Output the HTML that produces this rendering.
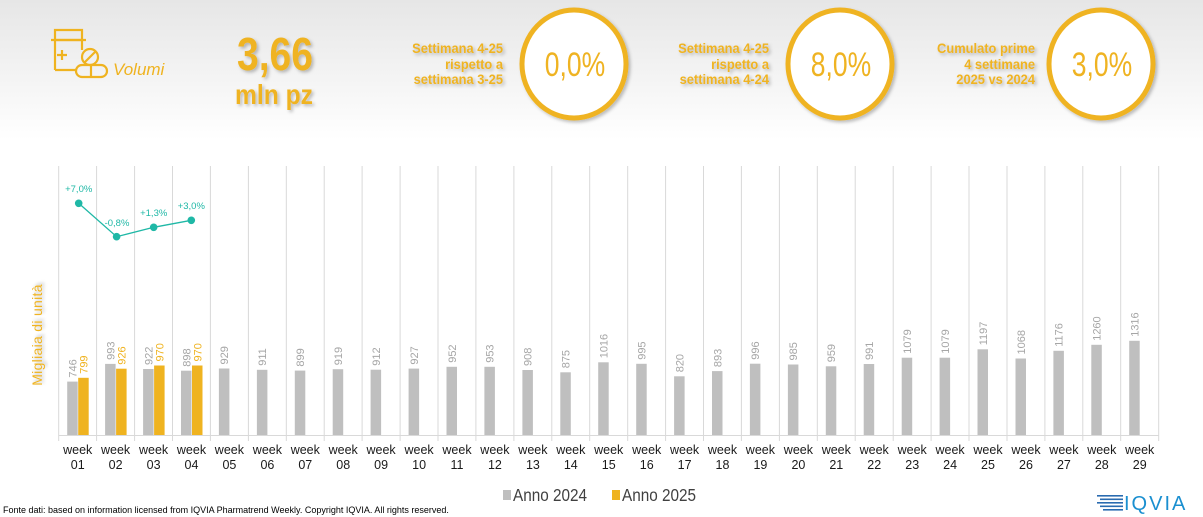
<!DOCTYPE html>
<html><head><meta charset="utf-8"><style>
html,body{margin:0;padding:0;width:1203px;height:517px;overflow:hidden;background:#fff}
svg{display:block;font-family:"Liberation Sans",sans-serif}
</style></head><body>
<svg width="1203" height="517" viewBox="0 0 1203 517">
<defs><linearGradient id="bg" x1="0" y1="0" x2="0" y2="1"><stop offset="0" stop-color="#e6e6e6"/><stop offset="1" stop-color="#ffffff"/></linearGradient>
<filter id="sh" x="-20%" y="-20%" width="140%" height="140%"><feDropShadow dx="2" dy="2" stdDeviation="1.5" flood-color="#000" flood-opacity="0.25"/></filter></defs>
<rect x="0" y="0" width="1203" height="140" fill="url(#bg)"/>
<!-- icon -->
<g fill="none" stroke="#EFB320" stroke-width="2.2">
<path d="M55 70 V40 H82 V50"/><path d="M55 40 V30 H82 V40"/><path d="M51 40 H86"/>
<path d="M62 50 V60 M57 55 H67"/><path d="M55 70 H76"/>
<circle cx="90" cy="57" r="8"/><path d="M84 63 L96 51"/>
<rect x="76" y="65" width="31" height="12" rx="6"/><path d="M91 65 V77"/>
</g>
<text x="113" y="75" font-size="17" font-style="italic" fill="#EFB320">Volumi</text>
<g filter="url(#sh)" fill="#EFB320" font-weight="bold" text-anchor="middle">
<text transform="translate(275,70) scale(0.85,1)" font-size="46">3,66</text>
<text transform="translate(274,104) scale(0.88,1)" font-size="28">mln pz</text>
<g font-size="14" text-anchor="end">
<g transform="translate(503,0) scale(0.92,1)"><text y="53">Settimana 4-25</text><text y="69">rispetto a</text><text y="84">settimana 3-25</text></g>
<g transform="translate(769,0) scale(0.92,1)"><text y="53">Settimana 4-25</text><text y="69">rispetto a</text><text y="84">settimana 4-24</text></g>
<g transform="translate(1035,0) scale(0.92,1)"><text y="53">Cumulato prime</text><text y="69">4 settimane</text><text y="84">2025 vs 2024</text></g>
</g>
<g fill="#fff" stroke="#EFB320" stroke-width="5"><ellipse cx="574" cy="64" rx="52" ry="54"/><ellipse cx="840" cy="64" rx="52" ry="54"/><ellipse cx="1101" cy="64" rx="52" ry="54"/></g>
<g font-size="34" font-weight="normal"><text transform="translate(575,76) scale(0.78,1)">0,0%</text><text transform="translate(841,76) scale(0.78,1)">8,0%</text><text transform="translate(1102,76) scale(0.78,1)">3,0%</text></g>
</g>
<!-- grid -->
<g stroke="#d9d9d9" stroke-width="1">
<path d="M58.7 166V441M96.6 166V441M134.6 166V441M172.5 166V441M210.4 166V441M248.4 166V441M286.3 166V441M324.2 166V441M362.1 166V441M400.1 166V441M438 166V441M475.9 166V441M513.9 166V441M551.8 166V441M589.7 166V441M627.7 166V441M665.6 166V441M703.5 166V441M741.4 166V441M779.4 166V441M817.3 166V441M855.2 166V441M893.2 166V441M931.1 166V441M969 166V441M1007 166V441M1044.9 166V441M1082.8 166V441M1120.7 166V441M1158.7 166V441"/>
<path d="M58.7 435.5H1158.7"/>
</g>
<text transform="translate(42,335) rotate(-90)" text-anchor="middle" font-size="14" letter-spacing="0.3" fill="#EFB320" filter="url(#sh)">Migliaia di unità</text>
<!-- bars -->
<g font-size="11">
<g transform="translate(58.7,0)"><rect x="8.5" y="381.6" width="10.5" height="53.4" fill="#bfbfbf"/><rect x="19.5" y="377.8" width="10.5" height="57.2" fill="#EFB320"/><text transform="translate(17.8,377.6) rotate(-90)" fill="#a6a6a6">746</text><text transform="translate(28.8,373.8) rotate(-90)" fill="#EFB320">799</text></g>
<g transform="translate(96.6,0)"><rect x="8.5" y="363.9" width="10.5" height="71.1" fill="#bfbfbf"/><rect x="19.5" y="368.7" width="10.5" height="66.3" fill="#EFB320"/><text transform="translate(17.8,359.9) rotate(-90)" fill="#a6a6a6">993</text><text transform="translate(28.8,364.7) rotate(-90)" fill="#EFB320">926</text></g>
<g transform="translate(134.6,0)"><rect x="8.5" y="369" width="10.5" height="66" fill="#bfbfbf"/><rect x="19.5" y="365.5" width="10.5" height="69.5" fill="#EFB320"/><text transform="translate(17.8,365) rotate(-90)" fill="#a6a6a6">922</text><text transform="translate(28.8,361.5) rotate(-90)" fill="#EFB320">970</text></g>
<g transform="translate(172.5,0)"><rect x="8.5" y="370.7" width="10.5" height="64.3" fill="#bfbfbf"/><rect x="19.5" y="365.5" width="10.5" height="69.5" fill="#EFB320"/><text transform="translate(17.8,366.7) rotate(-90)" fill="#a6a6a6">898</text><text transform="translate(28.8,361.5) rotate(-90)" fill="#EFB320">970</text></g>
<g fill="#bfbfbf">
<rect x="218.9" y="368.5" width="10.5" height="66.5"/><rect x="256.9" y="369.8" width="10.5" height="65.2"/><rect x="294.8" y="370.6" width="10.5" height="64.4"/><rect x="332.7" y="369.2" width="10.5" height="65.8"/><rect x="370.6" y="369.7" width="10.5" height="65.3"/><rect x="408.6" y="368.6" width="10.5" height="66.4"/><rect x="446.5" y="366.8" width="10.5" height="68.2"/><rect x="484.4" y="366.8" width="10.5" height="68.2"/><rect x="522.4" y="370" width="10.5" height="65"/><rect x="560.3" y="372.3" width="10.5" height="62.7"/><rect x="598.2" y="362.3" width="10.5" height="72.7"/><rect x="636.2" y="363.8" width="10.5" height="71.2"/><rect x="674.1" y="376.3" width="10.5" height="58.7"/><rect x="712" y="371.1" width="10.5" height="63.9"/><rect x="749.9" y="363.7" width="10.5" height="71.3"/><rect x="787.9" y="364.5" width="10.5" height="70.5"/><rect x="825.8" y="366.3" width="10.5" height="68.7"/><rect x="863.7" y="364" width="10.5" height="71"/><rect x="901.7" y="357.7" width="10.5" height="77.3"/><rect x="939.6" y="357.7" width="10.5" height="77.3"/><rect x="977.5" y="349.3" width="10.5" height="85.7"/><rect x="1015.5" y="358.5" width="10.5" height="76.5"/><rect x="1053.4" y="350.8" width="10.5" height="84.2"/><rect x="1091.3" y="344.8" width="10.5" height="90.2"/><rect x="1129.2" y="340.8" width="10.5" height="94.2"/>
</g>
<g fill="#a6a6a6">
<text transform="translate(228.2,364.5) rotate(-90)">929</text><text transform="translate(266.2,365.8) rotate(-90)">911</text><text transform="translate(304.1,366.6) rotate(-90)">899</text><text transform="translate(342,365.2) rotate(-90)">919</text><text transform="translate(379.9,365.7) rotate(-90)">912</text><text transform="translate(417.9,364.6) rotate(-90)">927</text><text transform="translate(455.8,362.8) rotate(-90)">952</text><text transform="translate(493.7,362.8) rotate(-90)">953</text><text transform="translate(531.7,366) rotate(-90)">908</text><text transform="translate(569.6,368.3) rotate(-90)">875</text><text transform="translate(607.5,358.3) rotate(-90)">1016</text><text transform="translate(645.5,359.8) rotate(-90)">995</text><text transform="translate(683.4,372.3) rotate(-90)">820</text><text transform="translate(721.3,367.1) rotate(-90)">893</text><text transform="translate(759.2,359.7) rotate(-90)">996</text><text transform="translate(797.2,360.5) rotate(-90)">985</text><text transform="translate(835.1,362.3) rotate(-90)">959</text><text transform="translate(873,360) rotate(-90)">991</text><text transform="translate(911,353.7) rotate(-90)">1079</text><text transform="translate(948.9,353.7) rotate(-90)">1079</text><text transform="translate(986.8,345.3) rotate(-90)">1197</text><text transform="translate(1024.8,354.5) rotate(-90)">1068</text><text transform="translate(1062.7,346.8) rotate(-90)">1176</text><text transform="translate(1100.6,340.8) rotate(-90)">1260</text><text transform="translate(1138.5,336.8) rotate(-90)">1316</text>
</g>
</g>
<!-- x labels -->
<g font-size="12.5" fill="#1a1a1a" text-anchor="middle">
<g transform="translate(77.7,0)"><text y="454">week</text><text y="469">01</text></g>
<g transform="translate(115.6,0)"><text y="454">week</text><text y="469">02</text></g>
<g transform="translate(153.6,0)"><text y="454">week</text><text y="469">03</text></g>
<g transform="translate(191.5,0)"><text y="454">week</text><text y="469">04</text></g>
<g transform="translate(229.4,0)"><text y="454">week</text><text y="469">05</text></g>
<g transform="translate(267.4,0)"><text y="454">week</text><text y="469">06</text></g>
<g transform="translate(305.3,0)"><text y="454">week</text><text y="469">07</text></g>
<g transform="translate(343.2,0)"><text y="454">week</text><text y="469">08</text></g>
<g transform="translate(381.1,0)"><text y="454">week</text><text y="469">09</text></g>
<g transform="translate(419.1,0)"><text y="454">week</text><text y="469">10</text></g>
<g transform="translate(457,0)"><text y="454">week</text><text y="469">11</text></g>
<g transform="translate(494.9,0)"><text y="454">week</text><text y="469">12</text></g>
<g transform="translate(532.9,0)"><text y="454">week</text><text y="469">13</text></g>
<g transform="translate(570.8,0)"><text y="454">week</text><text y="469">14</text></g>
<g transform="translate(608.7,0)"><text y="454">week</text><text y="469">15</text></g>
<g transform="translate(646.7,0)"><text y="454">week</text><text y="469">16</text></g>
<g transform="translate(684.6,0)"><text y="454">week</text><text y="469">17</text></g>
<g transform="translate(722.5,0)"><text y="454">week</text><text y="469">18</text></g>
<g transform="translate(760.4,0)"><text y="454">week</text><text y="469">19</text></g>
<g transform="translate(798.4,0)"><text y="454">week</text><text y="469">20</text></g>
<g transform="translate(836.3,0)"><text y="454">week</text><text y="469">21</text></g>
<g transform="translate(874.2,0)"><text y="454">week</text><text y="469">22</text></g>
<g transform="translate(912.2,0)"><text y="454">week</text><text y="469">23</text></g>
<g transform="translate(950.1,0)"><text y="454">week</text><text y="469">24</text></g>
<g transform="translate(988,0)"><text y="454">week</text><text y="469">25</text></g>
<g transform="translate(1026,0)"><text y="454">week</text><text y="469">26</text></g>
<g transform="translate(1063.9,0)"><text y="454">week</text><text y="469">27</text></g>
<g transform="translate(1101.8,0)"><text y="454">week</text><text y="469">28</text></g>
<g transform="translate(1139.7,0)"><text y="454">week</text><text y="469">29</text></g>
</g>
<!-- line -->
<polyline points="78.7,203.3 116.6,236.7 153.7,227.3 191.3,220.3" fill="none" stroke="#1fb8a6" stroke-width="1.3"/>
<g fill="#1fb8a6"><circle cx="78.7" cy="203.3" r="3.8"/><circle cx="116.6" cy="236.7" r="3.8"/><circle cx="153.7" cy="227.3" r="3.8"/><circle cx="191.3" cy="220.3" r="3.8"/></g>
<g font-size="9.5" fill="#1fb8a6" text-anchor="middle">
<text x="78.7" y="192">+7,0%</text><text x="117" y="226">-0,8%</text><text x="153.7" y="216">+1,3%</text><text x="191.3" y="209">+3,0%</text>
</g>
<!-- legend -->
<rect x="503" y="490" width="8" height="10" fill="#bfbfbf"/>
<text transform="translate(513,501) scale(0.85,1)" font-size="18" fill="#404040">Anno 2024</text>
<rect x="612" y="490" width="8" height="10" fill="#EFB320"/>
<text transform="translate(622,501) scale(0.85,1)" font-size="18" fill="#404040">Anno 2025</text>
<text x="3" y="513" font-size="9" fill="#000">Fonte dati: based on information licensed from IQVIA Pharmatrend Weekly. Copyright IQVIA. All rights reserved.</text>
<!-- logo -->
<g fill="#2a6bb0"><rect x="1097" y="495" width="26" height="1.6"/><rect x="1100" y="498.5" width="23" height="1.6"/><rect x="1097" y="502" width="26" height="1.6"/><rect x="1100" y="505.5" width="23" height="1.6"/><rect x="1103" y="509" width="20" height="1.6"/></g>
<text x="1124" y="510" font-size="20" fill="#1a8fd0" letter-spacing="2">IQVIA</text>
</svg>
</body></html>
